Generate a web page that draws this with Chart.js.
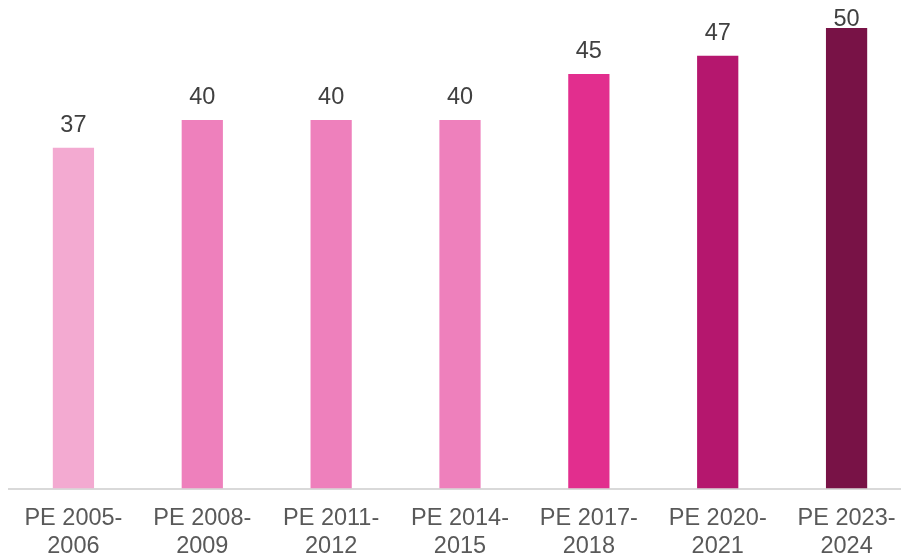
<!DOCTYPE html>
<html>
<head>
<meta charset="utf-8">
<script src="https://cdn.jsdelivr.net/npm/chart.js@4/dist/chart.umd.min.js"></script>
<style>
  html, body { margin: 0; padding: 0; background: #fff; overflow: hidden; }
  #wrap { width: 911px; height: 556px; }
</style>
</head>
<body>
<div id="wrap"><canvas id="chart" width="911" height="556"></canvas></div>
<script>
const periods = [
  ['PE 2005-', '2006'],
  ['PE 2008-', '2009'],
  ['PE 2011-', '2012'],
  ['PE 2014-', '2015'],
  ['PE 2017-', '2018'],
  ['PE 2020-', '2021'],
  ['PE 2023-', '2024']
];
const values = [37, 40, 40, 40, 45, 47, 50];
const barColors = ['#F3AAD1', '#EE80BC', '#EE80BC', '#EE80BC', '#E22E8E', '#B5176E', '#781246'];

const FONT = '"Liberation Sans", Arial, sans-serif';

const valueLabels = {
  id: 'valueLabels',
  afterDatasetsDraw(chart) {
    const ctx = chart.ctx;
    const meta = chart.getDatasetMeta(0);
    ctx.save();
    ctx.font = `23.5px ${FONT}`;
    ctx.fillStyle = '#404040';
    ctx.textAlign = 'center';
    ctx.textBaseline = 'alphabetic';
    meta.data.forEach((bar, i) => {
      const y = Math.max(bar.y - 16, 26);
      ctx.fillText(String(values[i]), bar.x, y);
    });
    ctx.restore();
  }
};

new Chart(document.getElementById('chart'), {
  type: 'bar',
  data: {
    labels: periods,
    datasets: [{
      data: values,
      backgroundColor: barColors,
      borderWidth: 0,
      categoryPercentage: 1,
      barPercentage: 0.32
    }]
  },
  options: {
    responsive: false,
    animation: false,
    layout: { padding: { top: 28, left: 9, right: 0, bottom: -12 } },
    plugins: {
      legend: { display: false },
      tooltip: { enabled: false }
    },
    scales: {
      x: {
        grid: { display: false },
        border: { display: true, color: '#D9D9D9', width: 2 },
        ticks: {
          color: '#595959',
          font: { family: FONT, size: 23.5, lineHeight: 1.18 },
          padding: 8,
          maxRotation: 0,
          autoSkip: false
        }
      },
      y: {
        display: false,
        min: 0,
        max: 50
      }
    }
  },
  plugins: [valueLabels]
});
</script>
</body>
</html>
